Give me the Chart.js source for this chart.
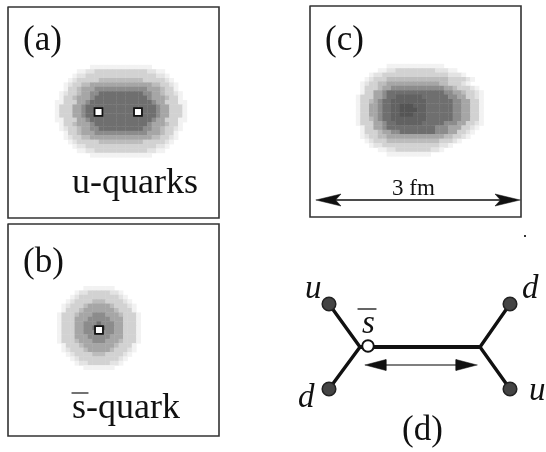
<!DOCTYPE html>
<html>
<head>
<meta charset="utf-8">
<script src="https://cdn.jsdelivr.net/npm/chart.js@4"></script>
<style>
  html, body { margin: 0; padding: 0; background: #fff; }
  canvas { display: block; filter: blur(0.35px); }
</style>
</head>
<body>
<canvas id="chart" width="546" height="452"></canvas>
<script>
// grey level of every cell (0 = paper)
const densityA = [
  "000000001111111111111100000000",
  "000001122333333333333221100000",
  "000012233333333333333332210000",
  "000123333344444444443333321000",
  "001233445555555555555544332100",
  "001334555666666666666555433100",
  "012334556677777777776655433210",
  "013345556777777777777655543310",
  "113335567777777777777765533311",
  "133355677777777777777776553331",
  "133355677777777777777776553331",
  "133355677777777777777776553331",
  "113335567777777777777765533311",
  "013345556777777777777655543310",
  "012334556677777777776655433210",
  "001334555666666666666555433100",
  "001233445555555555555544332100",
  "000123333344444444443333321000",
  "000012233333333333333332210000",
  "000001122333333333333221100000",
  "000000001111111111111100000000",
];
const densityB = [
  "0000001111111000000",
  "0000122333332210000",
  "0001233333333321000",
  "0012333344433332100",
  "0123334555554333210",
  "0133345555555433310",
  "1333455566655543331",
  "1333555666665553331",
  "1333556667666553331",
  "1333556677766553331",
  "1333556667666553331",
  "1333555666665553331",
  "1333455566655543331",
  "0133345555555433310",
  "0123334555554333210",
  "0012333344433332100",
  "0001233333333321000",
  "0000122333332210000",
  "0000001111111000000",
];
const densityC = [
  "00000001111111111111000000000",
  "00000112233333333322211000000",
  "00012233333333333333322210000",
  "00123334444444444444433332100",
  "01233445555555555554433321000",
  "01333455666666666666554333210",
  "01335567777777777777665543321",
  "13335567788888877777766553321",
  "13345677888888887777776655331",
  "13355677889998887777776655331",
  "13355677889999887777776655331",
  "13355677889998887777776655331",
  "13345677888888887777776655331",
  "13335567788888877777666553321",
  "01335567777777777766655533210",
  "01333455667777777766655332100",
  "01233445555555555555443321000",
  "00123334444444444443332100000",
  "00012233333333333332210000000",
  "00000112233333333221000000000",
  "00000001111111111000000000000",
];
const quarkA = [{ x: 98.5, y: 112 }, { x: 138, y: 112 }];
const quarkB = [{ x: 99, y: 330 }];
const outerQuarks = [{ x: 329, y: 304 }, { x: 329, y: 389 }, { x: 510, y: 304 }, { x: 510, y: 389 }];
const antiQuark = [{ x: 368, y: 346 }];
const strayDot = [{ x: 525, y: 236 }];
const panelLabels = ["(a)", "(b)", "(c)", "(d)"];
const quarkLabels = ["u", "d", "d", "u", "s"];
const captionA = "u-quarks";
const captionB = "s-quark";
const scaleLabel = "3 fm";

const greys = [null, "#f2f2f2", "#e3e3e3", "#d2d2d2", "#bcbcbc", "#a6a6a6", "#8c8c8c", "#6f6f6f", "#626262", "#555555"];
const CELL = 4.4;

function heatmap(rows, left, top) {
  const data = [], colors = [];
  rows.forEach((row, r) => {
    [...row].forEach((level, c) => {
      if (level === "0") return;
      data.push({ x: left + (c + 0.5) * CELL, y: top + (r + 0.5) * CELL });
      colors.push(greys[+level]);
    });
  });
  return {
    data, backgroundColor: colors, borderWidth: 0,
    pointStyle: "rect", pointRadius: 3.4, showLine: false,
  };
}

function line(points, color, width) {
  const data = points.map(p => ({ x: p[0], y: p[1] }));
  return {
    data, showLine: true, borderColor: color, borderWidth: width,
    pointRadius: 0, tension: 0, borderCapStyle: "round", borderJoinStyle: "miter",
  };
}

function box(x0, y0, x1, y1) {
  return line([[x0, y0], [x1, y0], [x1, y1], [x0, y1], [x0, y0]], "#333", 1.6);
}

// notch = 1 gives a plain triangle
function head(tip, y, dir, len, half, notch) {
  const ds = line([[tip, y], [tip + dir * len, y - half], [tip + dir * len * notch, y],
    [tip + dir * len, y + half], [tip, y]], "#111", 0.5);
  ds.fill = "shape";
  ds.backgroundColor = "#111";
  return ds;
}

function dots(data, fill, edge, edgeWidth, style, radius) {
  return {
    data, backgroundColor: fill, borderColor: edge, borderWidth: edgeWidth,
    pointStyle: style, pointRadius: radius, showLine: false,
  };
}

const texts = [
  { t: panelLabels[0], x: 23, y: 50, f: "35px" },
  { t: panelLabels[1], x: 23, y: 272, f: "35px" },
  { t: panelLabels[2], x: 325, y: 50, f: "35px" },
  { t: panelLabels[3], x: 402, y: 440, f: "35px" },
  { t: captionA, x: 72, y: 193, f: "36px" },
  { t: captionB, x: 72, y: 418, f: "36px" },
  { t: scaleLabel, x: 392, y: 195, f: "23px" },
  { t: quarkLabels[0], x: 305, y: 298, f: "italic 33px" },
  { t: quarkLabels[1], x: 298, y: 407, f: "italic 33px" },
  { t: quarkLabels[2], x: 522, y: 298, f: "italic 33px" },
  { t: quarkLabels[3], x: 529, y: 400, f: "italic 33px" },
  { t: quarkLabels[4], x: 362, y: 333, f: "italic 33px" },
];

const textPlugin = {
  id: "texts",
  afterDatasetsDraw(chart) {
    const { ctx, scales } = chart;
    ctx.save();
    ctx.fillStyle = "#111";
    ctx.textBaseline = "alphabetic";
    texts.forEach(l => {
      ctx.font = l.f + ' "Liberation Serif"';
      ctx.fillText(l.t, scales.x.getPixelForValue(l.x), scales.y.getPixelForValue(l.y));
    });
    ctx.restore();
  },
};

new Chart(document.getElementById("chart"), {
  type: "scatter",
  data: {
    datasets: [
      dots(strayDot, "#333", "#333", 0, "rect", 1.4),
      dots(antiQuark, "#fff", "#111", 2, "circle", 5.8),
      dots(outerQuarks, "#444", "#222", 1.5, "circle", 6.8),
      dots(quarkA, "#fff", "#111", 1.8, "rect", 5.6),
      dots(quarkB, "#fff", "#111", 1.8, "rect", 5.6),
      line([[72, 393], [88, 393]], "#444", 1.3),
      line([[358, 309], [376, 309]], "#333", 1.3),
      head(316, 200, 1, 25, 6, 0.78),
      head(520, 200, -1, 25, 6, 0.78),
      line([[330, 200], [510, 200]], "#111", 1.3),
      head(365, 365, 1, 21, 5.5, 1),
      head(477, 365, -1, 21, 5.5, 1),
      line([[380, 365], [462, 365]], "#555", 1.5),
      line([[360, 347], [480, 347]], "#111", 4),
      line([[329, 304], [360, 347], [329, 389]], "#111", 3.4),
      line([[510, 304], [480, 347], [510, 389]], "#111", 3.4),
      box(8, 7, 219, 218),
      box(8, 224, 219, 436),
      box(310, 6, 521, 217),
      heatmap(densityA, 55, 65),
      heatmap(densityB, 57.2, 286.2),
      heatmap(densityC, 356, 64),
    ],
  },
  options: {
    responsive: false,
    animation: false,
    events: [],
    layout: { padding: 0, autoPadding: false },
    plugins: { legend: { display: false }, tooltip: { enabled: false } },
    scales: {
      x: { type: "linear", display: false, min: 0, max: 546 },
      y: { type: "linear", display: false, reverse: true, min: 0, max: 452 },
    },
  },
  plugins: [textPlugin],
});
</script>
</body>
</html>
